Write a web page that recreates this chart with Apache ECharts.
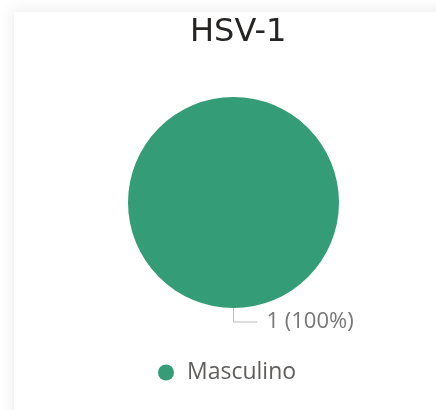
<!DOCTYPE html>
<html lang="es">
<head>
    <meta charset="UTF-8">
    <title>HSV-1</title>
    <script src="https://cdn.jsdelivr.net/npm/echarts@6/dist/echarts.min.js"></script>
</head>
<style>
    * {
        padding: 0;
        margin: 0;
    }

    body {
        width: 436px;
        height: 410px;
        overflow: hidden;
        background: #fff;
        position: relative;
    }

    .card {
        position: absolute;
        left: 14px;
        top: 12px;
        width: 460px;
        height: 420px;
        background: #fff;
        box-shadow: -4px -4px 12px rgba(0, 0, 0, 0.06);
    }

    .box {
        position: absolute;
        left: 0;
        top: 0;
        width: 436px;
        height: 410px;
    }
</style>

<body>
    <div class="card"></div>
    <div class="box" id="myChart"></div>
    <script>
        // datos
        const titulo = 'HSV-1';
        const categorias = ['Masculino'];
        const valores = [1];
        const colores = ['#349C76'];

        let myChart = echarts.init(document.getElementById('myChart'));
        let option = {
            backgroundColor: 'transparent',
            color: colores,
            title: {
                text: titulo,
                left: 185,
                top: 12,
                textStyle: {
                    color: '#252423',
                    fontSize: 32,
                    fontWeight: 'normal',
                    fontFamily: 'DejaVu Sans'
                }
            },
            legend: {
                data: categorias,
                bottom: 21,
                left: 153,
                icon: 'circle',
                itemWidth: 16,
                itemHeight: 16,
                textStyle: {
                    color: '#605E5C',
                    fontSize: 23,
                    fontFamily: 'Open Sans',
                    padding: [0, 0, 0, 8]
                }
            },
            series: [{
                type: 'pie',
                center: [233.5, 202.5],
                radius: 105.5,
                startAngle: 90,
                data: categorias.map((c, i) => ({ name: c, value: valores[i] })),
                label: {
                    formatter: '{c} ({d}%)',
                    color: '#777777',
                    fontSize: 22,
                    fontFamily: 'Open Sans',
                    distanceToLabelLine: 9
                },
                labelLine: {
                    length: 14,
                    length2: 24,
                    lineStyle: {
                        color: '#BBBBBB',
                        width: 1
                    }
                },
                emphasis: { scale: false }
            }]
        };
        myChart.setOption(option, true);
    </script>
</body>
</html>
